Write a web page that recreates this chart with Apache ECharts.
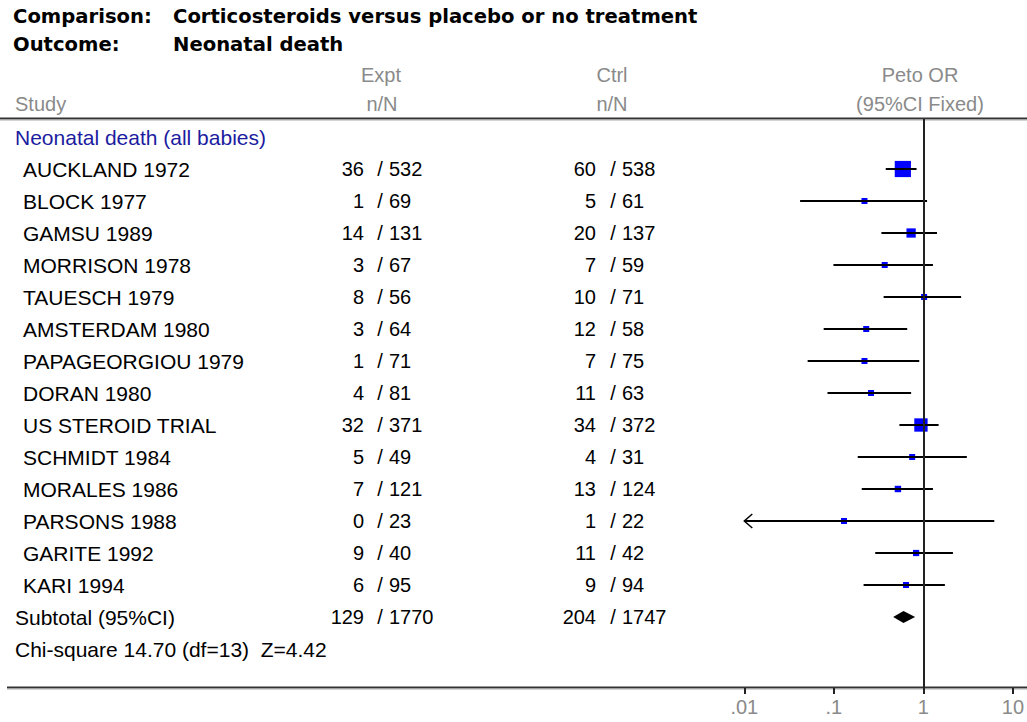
<!DOCTYPE html>
<html>
<head>
<meta charset="utf-8">
<script src="https://cdn.jsdelivr.net/npm/echarts@6/dist/echarts.min.js"></script>
<style>
  html, body { margin: 0; padding: 0; background: #ffffff; }
  #chart { width: 1027px; height: 722px; }
</style>
</head>
<body>
<div id="chart"></div>
<script>
// ---- Forest plot data -------------------------------------------------
const comparisonText = 'Corticosteroids versus placebo or no treatment';
const outcomeText = 'Neonatal death';
const groupLabel = 'Neonatal death (all babies)';

const studies = [
  'AUCKLAND 1972', 'BLOCK 1977', 'GAMSU 1989', 'MORRISON 1978', 'TAUESCH 1979',
  'AMSTERDAM 1980', 'PAPAGEORGIOU 1979', 'DORAN 1980', 'US STEROID TRIAL',
  'SCHMIDT 1984', 'MORALES 1986', 'PARSONS 1988', 'GARITE 1992', 'KARI 1994'
];
const exptEvents = [36, 1, 14, 3, 8, 3, 1, 4, 32, 5, 7, 0, 9, 6];
const exptTotal  = [532, 69, 131, 67, 56, 64, 71, 81, 371, 49, 121, 23, 40, 95];
const ctrlEvents = [60, 5, 20, 7, 10, 12, 7, 11, 34, 4, 13, 1, 11, 9];
const ctrlTotal  = [538, 61, 137, 59, 71, 58, 75, 63, 372, 31, 124, 22, 42, 94];

// Peto odds ratios with 95% confidence limits (fixed effect)
const petoOR  = [0.59, 0.22, 0.73, 0.37, 1.02, 0.23, 0.22, 0.26, 0.94, 0.75, 0.52, 0.13, 0.83, 0.64];
const ciLower = [0.38, 0.042, 0.34, 0.099, 0.36, 0.077, 0.051, 0.085, 0.54, 0.185, 0.205, 0.0026, 0.29, 0.215];
const ciUpper = [0.84, 1.10, 1.42, 1.28, 2.64, 0.66, 0.90, 0.73, 1.48, 3.06, 1.28, 6.2, 2.14, 1.74];
const weightPct = [31.2, 2.4, 10.2, 3.3, 4.3, 4.1, 2.6, 4.1, 21.1, 2.4, 4.9, 0.4, 4.6, 4.3];

const subtotalLabel = 'Subtotal (95%CI)';
const subtotalExpt = [129, 1770];
const subtotalCtrl = [204, 1747];
const subtotalOR = [0.60, 0.46, 0.81];   // estimate, lower, upper
const heterogeneityText = 'Chi-square 14.70 (df=13)  Z=4.42';

const xTickValues = [0.01, 0.1, 1, 10];
const xTickLabels = ['.01', '.1', '1', '10'];

// ---- Layout helpers ---------------------------------------------------
const AXIS_MIN = 0.01, AXIS_MAX = 10;
const FIRST_ROW_Y = 169, ROW_H = 32, PLOT_TOP = 119, PLOT_BOTTOM = 688;
const BODY_FONT = '20px "Liberation Sans", Arial, sans-serif';
const NAME_FONT = '21px "Liberation Sans", Arial, sans-serif';
const TITLE_FONT = 'bold 19.6px "DejaVu Sans", Verdana, sans-serif';
const GREY = '#8a8a8a';

const chart = echarts.init(document.getElementById('chart'), null, { renderer: 'svg' });

// Text rows of the table: study rows, then subtotal and heterogeneity rows
const tableRows = studies.map((name, i) => ({
  row: i, name, indent: true,
  expt: [exptEvents[i], exptTotal[i]], ctrl: [ctrlEvents[i], ctrlTotal[i]]
}));
tableRows.unshift({ row: -1, name: groupLabel, indent: false, color: '#1c1ca0' });
tableRows.push({ row: studies.length, name: subtotalLabel, indent: false, expt: subtotalExpt, ctrl: subtotalCtrl });
tableRows.push({ row: studies.length + 1, name: heterogeneityText, indent: false });

function txt(x, y, text, align, color, font) {
  return {
    type: 'text', x, y,
    style: { text, font: font || BODY_FONT, fill: color || '#000', align: align || 'left', verticalAlign: 'middle' }
  };
}

function fraction(parts, numRight, slashX, denLeft, y) {
  return [
    txt(numRight, y, String(parts[0]), 'right'),
    txt(slashX, y, '/', 'center'),
    txt(denLeft, y, String(parts[1]), 'left')
  ];
}

function headText(x, y, text, align, font, color) {
  return { type: 'text', x, y, style: { text, font: font || BODY_FONT, fill: color || GREY, align: align || 'left', verticalAlign: 'middle' } };
}

const option = {
  animation: false,
  backgroundColor: '#ffffff',
  grid: { left: 744.3, right: 1027 - 1014.3, top: PLOT_TOP, bottom: 722 - PLOT_BOTTOM, containLabel: false },
  xAxis: {
    type: 'log', logBase: 10, min: AXIS_MIN, max: AXIS_MAX,
    position: 'bottom',
    axisLine: { show: false, onZero: false },
    axisTick: { show: true, length: 6, lineStyle: { color: '#222', width: 2 } },
    splitLine: { show: false },
    axisLabel: {
      color: GREY, fontFamily: '"Liberation Sans", Arial, sans-serif', fontSize: 20, margin: 9,
      formatter: v => {
        const k = xTickValues.findIndex(t => Math.abs(Math.log10(t) - Math.log10(v)) < 1e-6);
        return k >= 0 ? xTickLabels[k] : '';
      }
    }
  },
  yAxis: {
    type: 'value', inverse: true, show: false,
    min: (PLOT_TOP - FIRST_ROW_Y) / ROW_H,
    max: (PLOT_BOTTOM - FIRST_ROW_Y) / ROW_H
  },
  graphic: [
    // headline
    headText(13, 16, 'Comparison:', 'left', TITLE_FONT, '#000'),
    headText(173, 16, comparisonText, 'left', TITLE_FONT, '#000'),
    headText(13, 44, 'Outcome:', 'left', TITLE_FONT, '#000'),
    headText(173, 44, outcomeText, 'left', TITLE_FONT, '#000'),
    // column headers
    headText(381, 75, 'Expt', 'center'),
    headText(382, 104, 'n/N', 'center'),
    headText(612, 75, 'Ctrl', 'center'),
    headText(612, 104, 'n/N', 'center'),
    headText(920, 75, 'Peto OR', 'center'),
    headText(920, 104, '(95%CI Fixed)', 'center'),
    headText(15, 104, 'Study', 'left'),
    // rules
    { type: 'line', shape: { x1: 0, y1: PLOT_TOP - 0.5, x2: 1027, y2: PLOT_TOP - 0.5 }, style: { stroke: '#333', lineWidth: 2 } },
    { type: 'line', shape: { x1: 0, y1: PLOT_TOP + 1, x2: 1027, y2: PLOT_TOP + 1 }, style: { stroke: '#aaa', lineWidth: 1 } },
    { type: 'line', shape: { x1: 7, y1: PLOT_BOTTOM - 0.5, x2: 1027, y2: PLOT_BOTTOM - 0.5 }, style: { stroke: '#333', lineWidth: 2 } },
    { type: 'line', shape: { x1: 7, y1: PLOT_BOTTOM + 1, x2: 1027, y2: PLOT_BOTTOM + 1 }, style: { stroke: '#aaa', lineWidth: 1 } }
  ],
  series: [
    {
      // table text, positioned on the same row scale as the plot
      type: 'custom', name: 'table', clip: false, silent: true,
      data: tableRows.map(r => [1, r.row]),
      encode: { x: 0, y: 1 },
      renderItem(params, api) {
        const r = tableRows[params.dataIndex];
        const y = api.coord([1, api.value(1)])[1];
        const children = [txt(r.indent ? 23 : 15, y, r.name, 'left', r.color, NAME_FONT)];
        if (r.expt) children.push(...fraction(r.expt, 364, 380, 389, y));
        if (r.ctrl) children.push(...fraction(r.ctrl, 596, 613, 622, y));
        return { type: 'group', children };
      }
    },
    {
      // confidence intervals with weight-sized squares
      type: 'custom', name: 'studies', clip: false, silent: true,
      data: studies.map((s, i) => [petoOR[i], i, ciLower[i], ciUpper[i], weightPct[i]]),
      encode: { x: 0, y: 1 },
      renderItem(params, api) {
        const i = api.value(1);
        const c = api.coord([api.value(0), i]);
        const lo = api.value(2), hi = api.value(3);
        const cut = lo < AXIS_MIN;
        const l = api.coord([Math.max(lo, AXIS_MIN), i]);
        const h = api.coord([Math.min(hi, AXIS_MAX), i]);
        const s = Math.max(6, 2.9 * Math.sqrt(api.value(4)));
        const kids = [
          { type: 'rect', shape: { x: c[0] - s / 2, y: c[1] - s / 2, width: s, height: s }, style: { fill: '#0000ff' } },
          { type: 'line', shape: { x1: l[0], y1: l[1], x2: h[0], y2: h[1] }, style: { stroke: '#000', lineWidth: 2 } }
        ];
        if (cut) {
          kids.push({ type: 'polyline', shape: { points: [[l[0] + 8, l[1] - 7], [l[0], l[1]], [l[0] + 8, l[1] + 7]] }, style: { stroke: '#000', lineWidth: 1.5, fill: null } });
        }
        return { type: 'group', children: kids };
      },
      markLine: {
        silent: true, symbol: 'none', label: { show: false },
        lineStyle: { color: '#222', width: 2, type: 'solid' },
        data: [{ xAxis: 1 }]
      }
    },
    {
      // pooled estimate diamond
      type: 'custom', name: 'subtotal', clip: false, silent: true,
      data: [[subtotalOR[0], studies.length, subtotalOR[1], subtotalOR[2]]],
      encode: { x: 0, y: 1 },
      renderItem(params, api) {
        const row = api.value(1);
        const c = api.coord([api.value(0), row]);
        const l = api.coord([api.value(2), row]);
        const h = api.coord([api.value(3), row]);
        return {
          type: 'polygon',
          shape: { points: [[l[0], c[1]], [c[0], c[1] - 6], [h[0], c[1]], [c[0], c[1] + 6]] },
          style: { fill: '#000' }
        };
      }
    }
  ]
};

chart.setOption(option);
</script>
</body>
</html>
